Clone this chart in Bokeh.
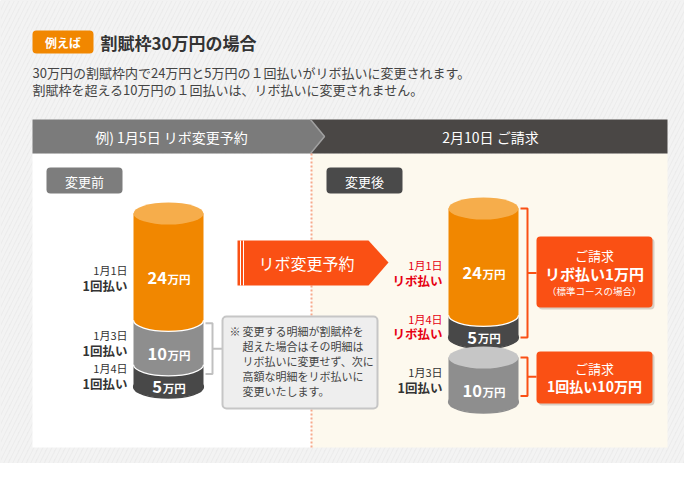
from bokeh.plotting import figure
from bokeh.models import Range1d
from bokeh.core.properties import value
from bokeh.embed import file_html
from bokeh.resources import INLINE

FONT = "Noto Sans CJK JP"

# ---------------- data ----------------
limit_man = 30
before_values = [24, 10, 5]
before_dates = ["1月1日", "1月3日", "1月4日"]
before_kinds = ["1回払い", "1回払い", "1回払い"]

after_revo_values = [24, 5]
after_revo_dates = ["1月1日", "1月4日"]
after_revo_kinds = ["リボ払い", "リボ払い"]

after_once_values = [10]
after_once_dates = ["1月3日"]
after_once_kinds = ["1回払い"]

bill_revo = ["ご請求", "リボ払い1万円", "（標準コースの場合）"]
bill_once = ["ご請求", "1回払い10万円"]

note_lines = ["変更する明細が割賦枠を", "超えた場合はその明細は", "リボ払いに変更せず、次に",
              "高額な明細をリボ払いに", "変更いたします。"]

# ---------------- styles ----------------
ORANGE = "#f18700"
ORANGE_TOP = "#f6ad4b"
GRAY = "#8e8e8e"
GRAY_TOP = "#c6c6c6"
DARK = "#484848"
RED_ORANGE = "#fa5014"
RED = "#e60012"
body_col = {"1月1日": ORANGE, "1月3日": GRAY, "1月4日": DARK}
top_col = {"1月1日": ORANGE_TOP, "1月3日": GRAY_TOP, "1月4日": "#777777"}

p = figure(width=684, height=463, x_range=Range1d(0, 684), y_range=Range1d(463, 0),
           output_backend="svg", toolbar_location=None, min_border=0,
           x_axis_location=None, y_axis_location=None)
p.grid.visible = False
p.outline_line_color = None
p.background_fill_color = "#ececec"
p.border_fill_color = "#ececec"


def t(x, y, s, size, color="#333333", align="left", bold=False):
    p.text(x=[x], y=[y], text=[s], text_font=value(FONT), text_font_size=f"{size}px",
           text_color=color, text_align=align, text_baseline="middle",
           text_font_style="bold" if bold else "normal")


def box(l, r, tp, b, fill, line=None, lw=1, radius=4):
    p.quad(left=l, right=r, top=tp, bottom=b, fill_color=fill,
           line_color=line, line_width=lw, border_radius=radius)


# background stripes
p.quad(left=0, right=684, top=0, bottom=463, fill_color="#ebebeb", line_color=None,
       hatch_pattern="/", hatch_color="#f3f3f3", hatch_scale=9, hatch_weight=3)

# ---------------- heading ----------------
box(32, 93, 30, 53, ORANGE)
t(62.5, 41.5, "例えば", 12, "white", "center", True)
t(100, 42, f"割賦枠{limit_man}万円の場合", 17, "#333333", "left", True)
t(32, 72, f"{limit_man}万円の割賦枠内で{before_values[0]}万円と{before_values[2]}万円の１回払いがリボ払いに変更されます。", 13, "#444444")
t(32, 88.5, f"割賦枠を超える{before_values[1]}万円の１回払いは、リボ払いに変更されません。", 13, "#444444")

# ---------------- panel ----------------
p.quad(left=32, right=311, top=153, bottom=447, fill_color="white", line_color=None)
p.quad(left=311, right=667, top=153, bottom=447, fill_color="#fdf9ee", line_color=None)
p.quad(left=310, right=667, top=119, bottom=153, fill_color="#4a4745", line_color=None)
p.patch(x=[32, 310, 324, 310, 32], y=[119, 119, 136, 153, 153], fill_color="#7b7b7b", line_color=None)
p.line(x=[310, 324, 310], y=[119, 136, 153], line_color="#a0a0a0", line_width=1.5)
t(171, 136, "例) 1月5日 リボ変更予約", 14, "white", "center")
t(490, 136, "2月10日 ご請求", 14, "white", "center")
p.line(x=[311, 311], y=[153, 447], line_color="#f7a98c", line_width=2, line_dash="2 2")

box(46, 122, 167, 193, "#7d7d7d")
t(84, 180.5, "変更前", 13, "white", "center")
box(326, 402, 167, 193, "#4a4a4a")
t(364, 180.5, "変更後", 13, "white", "center")

# ---------------- cylinders ----------------
W, RY, S = 70, 11, 4.45


def value_label(cx, y, v):
    num = str(v)
    nw = len(num) * 0.58 * 16.5
    uw = 2 * 11.5
    x0 = cx - (nw + uw) / 2
    t(x0, y, num, 16.5, "white", "left", True)
    t(x0 + nw + 1, y + 1, "万円", 11.5, "white", "left", True)


def cylinder(cx, top_y, values, dates, kinds, label_x, label_color, kind_color):
    segs = []
    y = top_y
    for v in values:
        segs.append((y, y + v * S))
        y += v * S
    n = len(values)
    for i in range(n - 1, -1, -1):
        tp, bt = segs[i]
        col = body_col[dates[i]]
        p.ellipse(x=[cx], y=[bt], width=W, height=2 * RY, fill_color=col,
                  line_color=("white" if i < n - 1 else col), line_width=1.3)
        p.quad(left=cx - W / 2, right=cx + W / 2, top=tp, bottom=bt, fill_color=col, line_color=None)
    p.ellipse(x=[cx], y=[top_y], width=W, height=2 * RY, fill_color=top_col[dates[0]], line_color=None)
    for i, v in enumerate(values):
        tp, bt = segs[i]
        mid = (tp + bt) / 2
        value_label(cx, mid + RY, v)
        lc = mid + (RY if (i == 0 and n > 1) else 0)
        t(label_x, lc - 7.5, dates[i], 11, label_color, "right")
        t(label_x, lc + 7.5, kinds[i], 12.5, kind_color, "right", True)
    return segs


bsegs = cylinder(168, 213, before_values, before_dates, before_kinds, 127, "#333333", "#333333")
rsegs = cylinder(483, 208, after_revo_values, after_revo_dates, after_revo_kinds, 442, RED, RED)
osegs = cylinder(483, 357, after_once_values, after_once_dates, after_once_kinds, 442, "#333333", "#333333")


def bracket(xb, y0, y1, x_out, color):
    p.line(x=[xb - 7, xb, xb, xb - 7], y=[y0, y0, y1, y1], line_color=color, line_width=2)
    m = (y0 + y1) / 2
    p.line(x=[xb, x_out], y=[m, m], line_color=color, line_width=2)


bracket(212, bsegs[1][0] + 3, bsegs[2][1] - 13, 222, "#c0c0c0")
bracket(527, rsegs[0][0], rsegs[-1][1], 536, RED_ORANGE)
bracket(527, osegs[0][0], osegs[-1][1] - 6, 536, RED_ORANGE)

# note box
box(222, 377, 316, 408, "#eeeeee", "#c6c6c6", 2, 4)
t(229, 330, "※", 11, "#444444")
for i, s in enumerate(note_lines):
    t(242, 330 + i * 15.2, s, 11, "#444444")

# arrow
p.patch(x=[237, 368, 388, 368, 237], y=[240, 240, 262, 285, 285], fill_color=RED_ORANGE, line_color=None)
p.line(x=[240, 240], y=[240, 285], line_color="white", line_width=1)
p.line(x=[243, 243], y=[240, 285], line_color="white", line_width=1)
t(306, 262, "リボ変更予約", 16, "white", "center")

# bill boxes
p.quad(left=538, right=654, top=238, bottom=309, fill_color="#d9cfc4", line_color=None, border_radius=4)
box(536, 652, 236, 307, RED_ORANGE)
t(594, 255, bill_revo[0], 13, "white", "center")
t(594, 273, bill_revo[1], 15, "white", "center", True)
t(594, 290, bill_revo[2], 9.5, "white", "center")
p.quad(left=538, right=654, top=353, bottom=405, fill_color="#d9cfc4", line_color=None, border_radius=4)
box(536, 652, 351, 403, RED_ORANGE)
t(594, 368, bill_once[0], 13, "white", "center")
t(594, 385, bill_once[1], 14, "white", "center", True)

open("out.html", "w").write(file_html(p, INLINE))
